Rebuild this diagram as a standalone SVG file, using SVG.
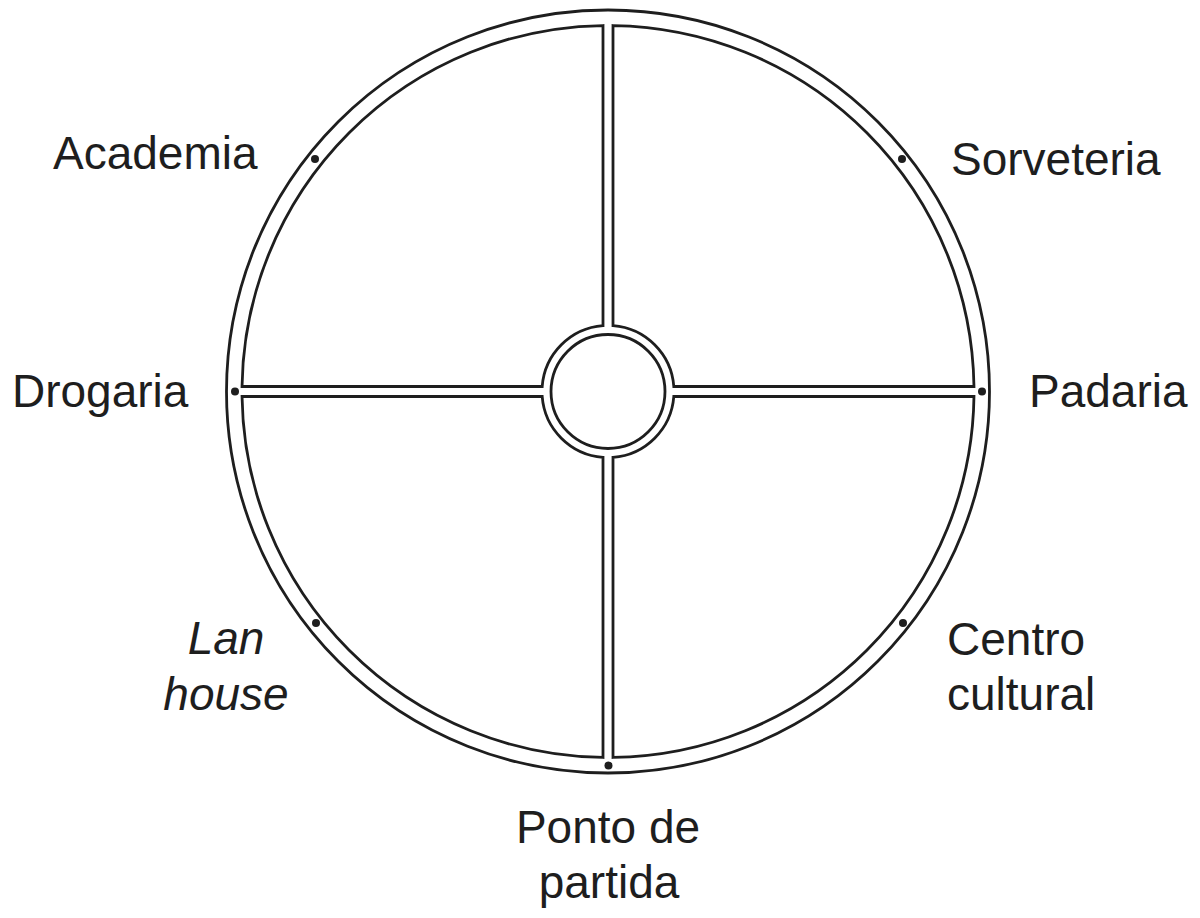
<svg xmlns="http://www.w3.org/2000/svg" width="1200" height="918" viewBox="0 0 1200 918">
<style>
.ln{fill:none;stroke:#1e1e1e;stroke-width:2.8}
.dot{fill:#1e1e1e}
.t{font-family:"Liberation Sans",Arial,sans-serif;font-size:46px;fill:#1e1e1e}
.i{font-style:italic}
</style>
<rect width="1200" height="918" fill="#fff"/>
<g id="ring">
<circle class="ln" cx="608" cy="391.5" r="381.5"/>
</g>
<g id="center">
<circle class="ln" cx="608" cy="391.5" r="57"/>
</g>
<g id="connectors">
<path class="ln" d="M613 25.53 L613 325.69 A66 66 0 0 1 673.81 386.5 L973.97 386.5 A366 366 0 0 0 613 25.53 Z"/>
<path class="ln" d="M603 25.53 L603 325.69 A66 66 0 0 0 542.19 386.5 L242.03 386.5 A366 366 0 0 1 603 25.53 Z"/>
<path class="ln" d="M603 757.47 L603 457.31 A66 66 0 0 1 542.19 396.5 L242.03 396.5 A366 366 0 0 0 603 757.47 Z"/>
<path class="ln" d="M613 757.47 L613 457.31 A66 66 0 0 0 673.81 396.5 L973.97 396.5 A366 366 0 0 1 613 757.47 Z"/>
</g>
<g id="dots">
<circle class="dot" cx="235" cy="391.5" r="4"/>
<circle class="dot" cx="982" cy="391.5" r="4"/>
<circle class="dot" cx="608.5" cy="765.5" r="4"/>
<circle class="dot" cx="315" cy="159" r="4"/>
<circle class="dot" cx="902" cy="159" r="4"/>
<circle class="dot" cx="316" cy="623" r="4"/>
<circle class="dot" cx="903" cy="623" r="4"/>
</g>
<g id="academia"><text class="t" x="53" y="169">Academia</text></g>
<g id="sorveteria"><text class="t" x="951" y="175">Sorveteria</text></g>
<g id="drogaria"><text class="t" x="12" y="407">Drogaria</text></g>
<g id="padaria"><text class="t" x="1029" y="407">Padaria</text></g>
<g id="lanhouse"><text class="t i" text-anchor="middle"><tspan x="226" y="654">Lan</tspan><tspan x="226" y="710">house</tspan></text></g>
<g id="centro"><text class="t"><tspan x="947" y="655">Centro</tspan><tspan x="947" y="710">cultural</tspan></text></g>
<g id="ponto"><text class="t" text-anchor="middle"><tspan x="608" y="843">Ponto de</tspan><tspan x="609" y="898">partida</tspan></text></g>
</svg>
